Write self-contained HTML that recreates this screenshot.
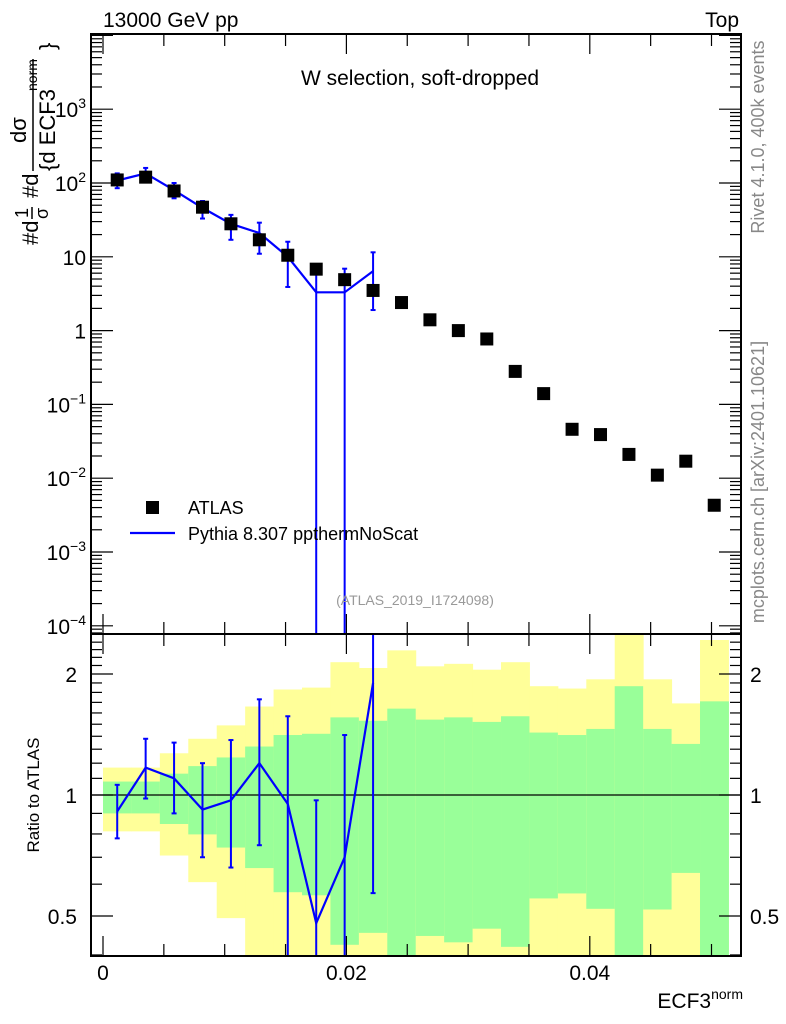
<!DOCTYPE html>
<html><head><meta charset="utf-8"><style>
html,body{margin:0;padding:0;background:#fff}
svg{display:block;font-family:"Liberation Sans",sans-serif}
</style></head><body>
<svg id="c" width="786" height="1024" xmlns="http://www.w3.org/2000/svg"></svg>
<script>
const dataVals=[110,120,78,47,28,17,10.5,6.8,4.9,3.5,2.4,1.4,1.0,0.77,0.28,0.14,0.046,0.039,0.021,0.011,0.017,0.0043];
const mcVals=[108,135,80,46,28,21,10,3.3,3.3,6.4];
const mcErrHi=[135,160,100,57,37,29,16,6.9,6.9,11.5];
const mcErrLo=[85,110,62,33,17,11,3.9,0,0,1.9];
const ratioVals=[0.91,1.17,1.1,0.92,0.97,1.2,0.95,0.48,0.7,1.9];
const ratioHi=[1.06,1.38,1.35,1.2,1.37,1.73,1.57,0.97,1.41,2.6];
const ratioLo=[0.78,0.98,0.9,0.7,0.66,0.75,0.3,0.3,0.3,0.57];
const yelHi=[1.17,1.17,1.27,1.38,1.49,1.66,1.83,1.85,2.14,2.07,2.29,2.09,2.12,2.05,2.14,1.865,1.84,1.94,2.6,1.94,1.69,2.43];
const grnHi=[1.08,1.08,1.13,1.18,1.24,1.32,1.41,1.42,1.56,1.53,1.64,1.54,1.56,1.52,1.57,1.43,1.41,1.46,1.865,1.46,1.34,1.71];
const grnLo=[0.9,0.9,0.847,0.798,0.74,0.658,0.573,0.563,0.424,0.454,0.35,0.446,0.43,0.465,0.419,0.553,0.569,0.521,0.35,0.519,0.64,0.35];
const yelLo=[0.812,0.812,0.707,0.607,0.494,0.35,0.35,0.35,0.35,0.35,0.35,0.35,0.35,0.35,0.35,0.35,0.35,0.35,0.35,0.35,0.35,0.35];
const binWidth=0.002336;
const xTicks=[0,0.02,0.04];
const xTickLabels=["0","0.02","0.04"];
const ratioTicks=[0.5,1,2];

const L=91,R=741,T=34,MB=634,RB=956;
const X=v=>103+v*12170;
const Y=v=>183-(Math.log10(v)-2)*73.8;
const YR=v=>795-Math.log2(v)*121;
const svg=document.getElementById('c');
const NS='http://www.w3.org/2000/svg';
function mk(tag,at,parent){const e=document.createElementNS(NS,tag);for(const k in at)e.setAttribute(k,at[k]);(parent||svg).appendChild(e);return e;}
function txt(s,at,parent){const e=mk('text',at,parent);e.textContent=s;return e;}
const clipD=mk('defs',{});
const cp1=mk('clipPath',{id:'cm'},clipD);mk('rect',{x:L,y:T,width:R-L,height:MB-T},cp1);
const cp2=mk('clipPath',{id:'cr'},clipD);mk('rect',{x:L,y:MB,width:R-L,height:RB-MB},cp2);

const gR=mk('g',{'clip-path':'url(#cr)'});


for(let i=0;i<yelHi.length;i++){
  const x0=X(i*binWidth),x1=X((i+1)*binWidth);
  const ry=mk('rect',{x:x0,y:YR(yelHi[i]),width:x1-x0+0.5,height:YR(yelLo[i])-YR(yelHi[i]),fill:'#ffff99'},gR);
  
  
  const rg=mk('rect',{x:x0,y:YR(grnHi[i]),width:x1-x0+0.5,height:YR(grnLo[i])-YR(grnHi[i]),fill:'#99ff99'},gR);
  
  
}
mk('line',{x1:L,x2:R,y1:YR(1),y2:YR(1),stroke:'#000','stroke-width':1.3},gR);
let pts=ratioVals.map((v,i)=>X((i+0.5)*binWidth)+','+YR(v)).join(' ');
const rl=mk('polyline',{points:pts,fill:'none',stroke:'#0000ff','stroke-width':2.2},gR);


ratioVals.forEach((v,i)=>{const x=X((i+0.5)*binWidth);
  const e=mk('line',{x1:x,x2:x,y1:YR(ratioHi[i]),y2:YR(ratioLo[i]),stroke:'#0000ff','stroke-width':2},gR);
  
  
  mk('line',{x1:x-2.5,x2:x+2.5,y1:YR(ratioHi[i]),y2:YR(ratioHi[i]),stroke:'#0000ff','stroke-width':2},gR);
  mk('line',{x1:x-2.5,x2:x+2.5,y1:YR(ratioLo[i]),y2:YR(ratioLo[i]),stroke:'#0000ff','stroke-width':2},gR);
});

const gM=mk('g',{'clip-path':'url(#cm)'});


const Yc=v=>v<=0?MB+10:Y(v);
pts=mcVals.map((v,i)=>X((i+0.5)*binWidth)+','+Y(v)).join(' ');
const ml=mk('polyline',{points:pts,fill:'none',stroke:'#0000ff','stroke-width':2.2},gM);


mcVals.forEach((v,i)=>{const x=X((i+0.5)*binWidth);
  const e=mk('line',{x1:x,x2:x,y1:Y(mcErrHi[i]),y2:Yc(mcErrLo[i]),stroke:'#0000ff','stroke-width':2},gM);
  
  
  mk('line',{x1:x-2.5,x2:x+2.5,y1:Y(mcErrHi[i]),y2:Y(mcErrHi[i]),stroke:'#0000ff','stroke-width':2},gM);
  if(mcErrLo[i]>0)mk('line',{x1:x-2.5,x2:x+2.5,y1:Y(mcErrLo[i]),y2:Y(mcErrLo[i]),stroke:'#0000ff','stroke-width':2},gM);
});
dataVals.forEach((v,i)=>{const x=X((i+0.5)*binWidth);
  const r=mk('rect',{x:x-6.5,y:Y(v)-6.5,width:13,height:13,fill:'#000'},gM);
  
  
});

mk('rect',{x:L,y:T,width:R-L,height:MB-T,fill:'none',stroke:'#000','stroke-width':2});
mk('rect',{x:L,y:MB,width:R-L,height:RB-MB,fill:'none',stroke:'#000','stroke-width':2});
for(let d=-5;d<=4;d++){for(let m=1;m<10;m++){const v=m*Math.pow(10,d);const y=Y(v);if(y<T||y>MB)continue;
  const len=m===1?22:11;
  mk('line',{x1:L,x2:L+len,y1:y,y2:y,stroke:'#000','stroke-width':1.2});
  mk('line',{x1:R,x2:R-len,y1:y,y2:y,stroke:'#000','stroke-width':1.2});}}
for(let v=0.4;v<=2.5;v+=0.1){const y=YR(v);if(y<MB||y>RB)continue;const maj=Math.abs(v-0.5)<1e-6||Math.abs(v-1)<1e-6||Math.abs(v-2)<1e-6;
  const len=maj?22:11;
  mk('line',{x1:L,x2:L+len,y1:y,y2:y,stroke:'#000','stroke-width':1.2});
  mk('line',{x1:R,x2:R-len,y1:y,y2:y,stroke:'#000','stroke-width':1.2});}
for(let k=0;k<=10;k++){const v=k*0.005;const x=X(v);const maj=k%4===0;const len=maj?20:12;
  mk('line',{x1:x,x2:x,y1:T,y2:T+len,stroke:'#000','stroke-width':1.2});
  mk('line',{x1:x,x2:x,y1:MB,y2:MB+len,stroke:'#000','stroke-width':1.2});
  mk('line',{x1:x,x2:x,y1:MB,y2:MB-len,stroke:'#000','stroke-width':1.2});
  mk('line',{x1:x,x2:x,y1:RB,y2:RB-len,stroke:'#000','stroke-width':1.2});}

const yl=[[3,'10','3'],[2,'10','2'],[1,'10',''],[0,'1',''],[-1,'10','−1'],[-2,'10','−2'],[-3,'10','−3'],[-4,'10','−4']];
yl.forEach(([d,b,e])=>{const y=Y(Math.pow(10,d))+8;
  const t=txt('',{x:86,y:y,'font-size':21,'text-anchor':'end'});
  
  
  const s1=mk('tspan',{},t);s1.textContent=b;
  if(e){const s2=mk('tspan',{dy:-9,'font-size':14},t);s2.textContent=e;}
});
ratioTicks.forEach(v=>{const y=YR(v)+8;const s=String(v);
  const a=txt(s,{x:77,y:y,'font-size':21,'text-anchor':'end'});
  
  
  const b=txt(s,{x:750,y:y,'font-size':21});
  
  });
xTicks.forEach((v,i)=>{const t=txt(xTickLabels[i],{x:X(v),y:980,'font-size':21,'text-anchor':'middle'});
  
  });
</script>
<svg width="786" height="1024" style="position:absolute;left:0;top:0" xmlns="http://www.w3.org/2000/svg" font-family="Liberation Sans, sans-serif">
<text x="103" y="27" font-size="21">13000 GeV pp</text>
<text x="739" y="27" font-size="21" text-anchor="end">Top</text>
<text x="420" y="85" font-size="21" text-anchor="middle">W selection, soft-dropped</text>
<text transform="translate(764,137) rotate(-90)" font-size="18" fill="#888" text-anchor="middle">Rivet 4.1.0,  400k events</text>
<text transform="translate(764,482) rotate(-90)" font-size="18" fill="#888" text-anchor="middle">mcplots.cern.ch [arXiv:2401.10621]</text>
<text x="415" y="605" font-size="14" fill="#999" text-anchor="middle">(ATLAS_2019_I1724098)</text>
<rect x="146" y="501" width="13" height="13" fill="#000"/>
<text x="188" y="514" font-size="18">ATLAS</text>
<line x1="130" x2="175" y1="533" y2="533" stroke="#0000ff" stroke-width="2.2"/>
<text x="188" y="540" font-size="18">Pythia 8.307 ppthermNoScat</text>
<text transform="translate(39,795) rotate(-90)" font-size="17" text-anchor="middle">Ratio to ATLAS</text>
<text x="743" y="1008" font-size="21" text-anchor="end">ECF3<tspan dy="-9" font-size="14">norm</tspan></text>
<g transform="translate(38,245) rotate(-90)" font-size="22">
<text x="0" y="0">#d</text><text x="27" y="-10" font-size="18">1</text><line x1="26" x2="38" y1="-6" y2="-6" stroke="#000" stroke-width="1.5"/><text x="26" y="10" font-size="18">σ</text>
<text x="47" y="0">#d</text>
<text x="102" y="-12">dσ</text><line x1="74" x2="186" y1="-5" y2="-5" stroke="#000" stroke-width="1.5"/><text x="74" y="17">{d ECF3</text><text x="154" y="-1" font-size="14">norm</text><text x="195" y="17">}</text>
</g>
</svg>
</body></html>
